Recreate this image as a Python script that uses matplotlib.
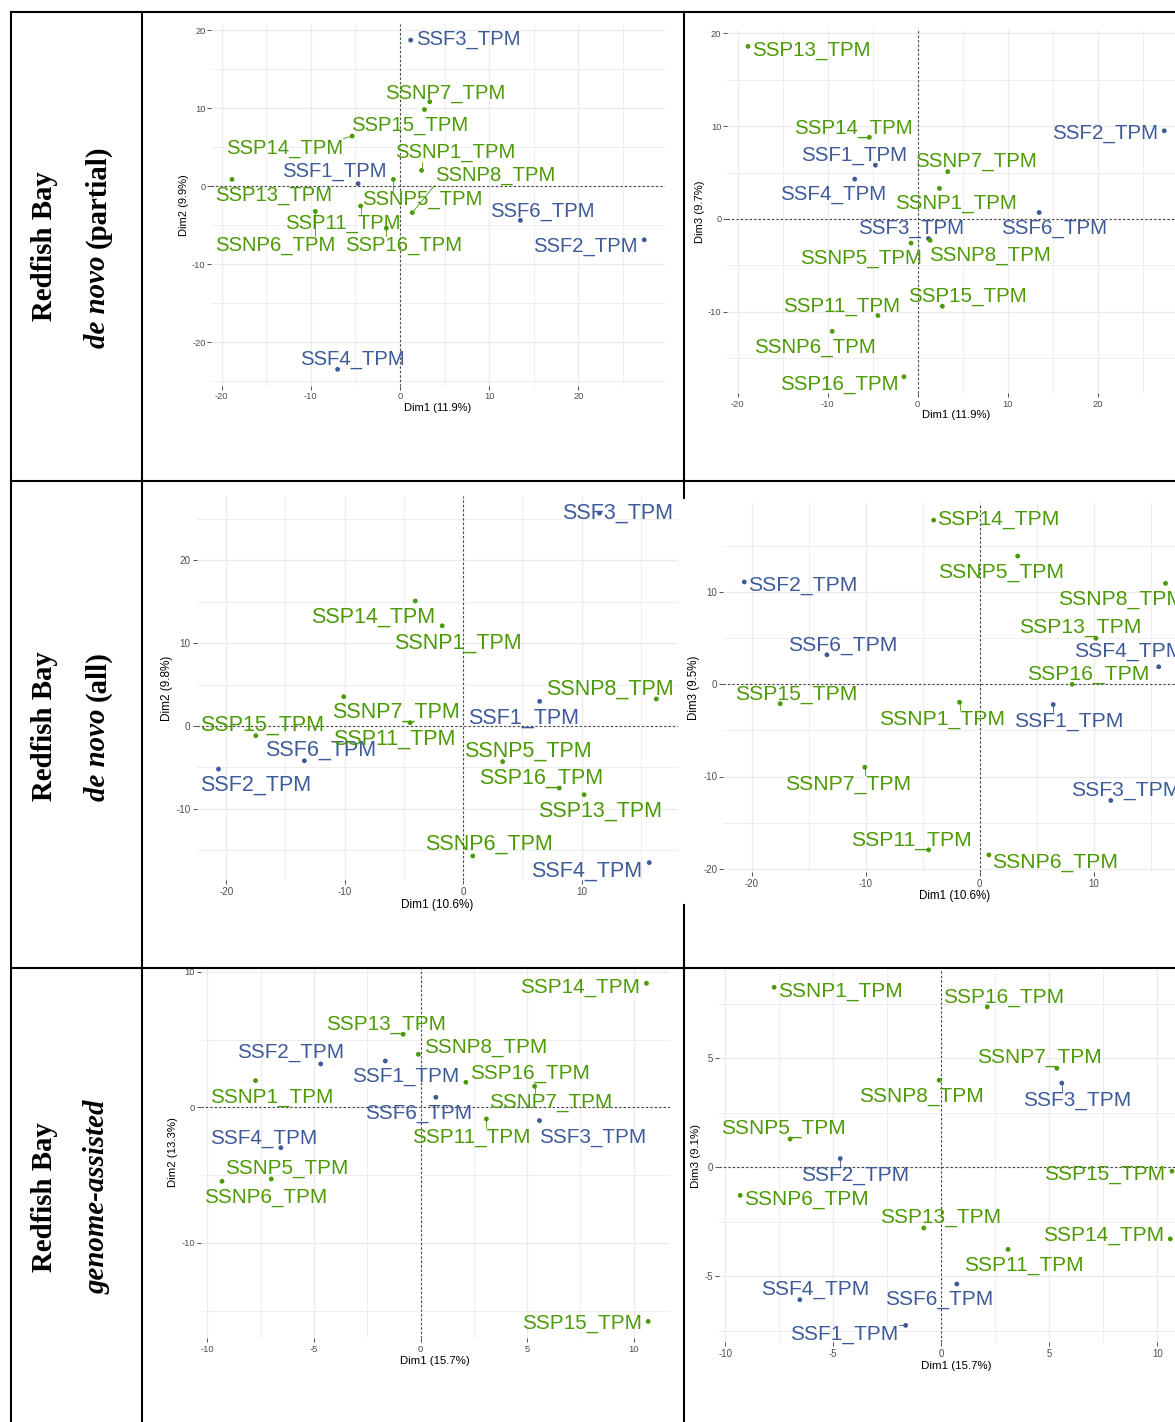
import numpy as np
import matplotlib
matplotlib.use("Agg")
import matplotlib.pyplot as plt
from matplotlib.lines import Line2D
from matplotlib.ticker import MultipleLocator

plt.rcParams['font.family'] = 'Liberation Sans'
plt.rcParams['axes.unicode_minus'] = False

W, H = 1175, 1422

# ---- PCA scores (individuals) ----
samples = ["SSF1_TPM", "SSF2_TPM", "SSF3_TPM", "SSF4_TPM", "SSF6_TPM",
           "SSNP1_TPM", "SSNP5_TPM", "SSNP6_TPM", "SSNP7_TPM", "SSNP8_TPM",
           "SSP11_TPM", "SSP13_TPM", "SSP14_TPM", "SSP15_TPM", "SSP16_TPM"]
group = ["SSF"] * 5 + ["SSP"] * 10

partial_dim1 = [-4.70, 27.40, 1.20, -7.00, 13.50, 2.42, -0.74, -9.50, 3.34, 1.38, -4.42, -18.85, -5.37, 2.74, -1.53]
partial_dim2 = [0.30, -6.90, 18.70, -23.50, -4.40, 2.00, 0.85, -3.25, 10.80, -3.42, -2.56, 0.85, 6.40, 9.80, -5.40]
partial_dim3 = [5.80, 9.50, -2.10, 4.30, 0.70, 3.30, -2.60, -12.10, 5.10, -2.30, -10.40, 18.60, 8.80, -9.40, -17.00]
partial_var = [11.9, 9.9, 9.7]

all_dim1 = [6.45, -20.65, 11.50, 15.70, -13.40, -1.77, 3.33, 0.81, -10.08, 16.30, -4.48, 10.20, -4.04, -17.50, 8.11]
all_dim2 = [2.98, -5.20, 25.70, -16.50, -4.20, 12.10, -4.30, -15.70, 3.54, 3.26, 0.40, -8.30, 15.10, -1.17, -7.50]
all_dim3 = [-2.20, 11.10, -12.60, 1.90, 3.20, -1.95, 13.90, -18.50, -9.00, 10.95, -17.96, 5.00, 17.80, -2.10, 0.00]
all_var = [10.6, 9.8, 9.5]

genome_dim1 = [-1.65, -4.68, 5.58, -6.55, 0.72, -7.74, -7.00, -9.31, 5.35, -0.10, 3.09, -0.81, 10.60, 10.68, 2.13]
genome_dim2 = [3.42, 3.20, -0.98, -2.98, 0.74, 1.97, -5.29, -5.46, 1.55, 3.91, -0.86, 5.39, 9.15, -15.80, 1.85]
genome_dim3 = [-7.26, 0.40, 3.87, -6.08, -5.36, 8.27, 1.30, -1.29, 4.55, 4.00, -3.77, -2.79, -3.29, -0.18, 7.37]
genome_var = [15.7, 13.3, 9.1]

row_titles = ["Redfish Bay", "Redfish Bay", "Redfish Bay"]
row_subtitles = [("de novo", "(partial)"), ("de novo", "(all)"), ("genome-assisted", "")]

# ---- repelled label placement (x centre, baseline) in data units ----
lab_p12 = [(-7.33, 1.20), (20.82, -8.42), (7.61, 18.16), (-5.30, -22.95), (15.94, -3.95),
           (6.20, 3.63), (2.50, -2.35), (-14.03, -8.29), (5.11, 11.24), (10.64, 0.64),
           (-6.39, -5.43), (-14.19, -1.88), (-12.90, 4.19), (1.09, 7.05), (0.39, -8.29)]
lab_p13 = [(-7.07, 6.25), (20.81, 8.62), (-0.70, -1.54), (-9.37, 2.12), (15.19, -1.54),
           (4.22, 1.08), (-6.30, -4.85), (-11.41, -14.40), (6.44, 5.64), (8.04, -4.52),
           (-8.41, -9.98), (-11.81, 17.59), (-7.19, 9.23), (5.48, -8.90), (-8.74, -18.35)]
lab_a12 = [(5.13, 0.32), (-17.50, -7.85), (13.05, 25.01), (10.44, -18.20), (-12.02, -3.62),
           (-0.41, 9.38), (5.45, -3.71), (2.17, -14.98), (-5.69, 1.05), (12.35, 3.83),
           (-5.81, -2.22), (11.52, -10.95), (-7.57, 12.48), (-16.98, -0.56), (6.60, -6.93)]
lab_a13 = [(7.84, -4.59), (-15.56, 10.16), (12.81, -12.07), (13.04, 3.00), (-12.02, 3.65),
           (-3.27, -4.34), (1.87, 11.60), (6.58, -19.95), (-11.58, -11.46), (12.37, 8.67),
           (-5.99, -17.53), (8.80, 5.60), (1.64, 17.35), (-16.08, -1.70), (9.56, 0.47)]
lab_g12 = [(-0.68, 1.85), (-6.11, 3.62), (8.07, -2.58), (-7.37, -2.66), (-0.08, -0.86),
           (-6.99, 0.37), (-6.28, -4.94), (-7.24, -7.04), (6.10, -0.07), (3.05, 3.99),
           (2.36, -2.58), (-1.61, 5.71), (7.50, 8.49), (7.58, -16.38), (5.13, 2.14)]
lab_g13 = [(-4.48, -7.90), (-3.98, -0.61), (6.28, 2.83), (-5.83, -5.87), (-0.11, -6.32),
           (-4.68, 7.84), (-7.30, 1.56), (-6.25, -1.73), (4.55, 4.78), (-0.93, 3.02),
           (3.81, -4.76), (-0.05, -2.55), (7.52, -3.38), (7.58, -0.55), (2.87, 7.56)]

palette = {"SSF": "#3E5A99", "SSP": "#4C9A06"}

fig = plt.figure(figsize=(W / 100, H / 100), dpi=100)
fig.patch.set_facecolor("white")


def expand(v):
    lo, hi = min(v), max(v)
    pad = 0.05 * (hi - lo)
    return lo - pad, hi + pad


def pca_panel(x, y, xvar, yvar, xdim, ydim, labels, x0, sx, y0, sy, fs, xstep, ystep):
    xlim, ylim = expand(x), expand(y)
    left, right = x0 + xlim[0] * sx, x0 + xlim[1] * sx
    top, bottom = y0 - ylim[1] * sy, y0 - ylim[0] * sy
    ax = fig.add_axes([left / W, 1 - bottom / H, (right - left) / W, (bottom - top) / H])
    ax.set_xlim(xlim)
    ax.set_ylim(ylim)
    s = fs / 14.6
    for sp in ax.spines.values():
        sp.set_visible(False)
    ax.xaxis.set_major_locator(MultipleLocator(xstep))
    ax.yaxis.set_major_locator(MultipleLocator(ystep))
    ax.xaxis.set_minor_locator(MultipleLocator(xstep / 2))
    ax.yaxis.set_minor_locator(MultipleLocator(ystep / 2))
    ax.grid(which="major", color="#EBEBEB", lw=0.9)
    ax.grid(which="minor", color="#EBEBEB", lw=0.6)
    ax.set_axisbelow(True)
    ax.tick_params(which="major", length=2.6 * s, width=0.6, color="#333333",
                   labelsize=6.7 * s, labelcolor="#4D4D4D")
    ax.tick_params(axis="x", pad=2.2 * s)
    ax.tick_params(axis="y", pad=1.5 * s)
    ax.tick_params(which="minor", length=0)
    ax.xaxis.set_major_formatter(plt.FuncFormatter(lambda v, p: f"{v:g}"))
    ax.yaxis.set_major_formatter(plt.FuncFormatter(lambda v, p: f"{v:g}"))
    ax.set_xlabel(f"Dim{xdim} ({xvar}%)", fontsize=8.0 * s, labelpad=1.0 * s)
    ax.set_ylabel(f"Dim{ydim} ({yvar}%)", fontsize=8.0 * s, labelpad=2.0 * s)

    ax.axhline(0, color="#444444", lw=0.8, ls=(0, (2, 2)), zorder=1)
    ax.axvline(0, color="#444444", lw=0.8, ls=(0, (2, 2)), zorder=1)

    cols = [palette[g] for g in group]
    ax.scatter(x, y, s=12, c=cols, linewidths=0, zorder=3)
    texts = []
    for name, (lx, ly), c in zip(samples, labels, cols):
        texts.append(ax.text(lx, ly, name, ha="center", va="baseline",
                             fontsize=fs, color=c, zorder=4))
    return ax, texts, cols


panels = [
    (partial_dim1, partial_dim2, partial_var[0], partial_var[1], 1, 2, lab_p12, 400.0, 8.915, 186.0, 7.8, 14.6, 10, 10),
    (partial_dim1, partial_dim3, partial_var[0], partial_var[2], 1, 3, lab_p13, 917.7, 9.0, 219.0, 9.283, 14.75, 10, 10),
    (all_dim1, all_dim2, all_var[0], all_var[1], 1, 2, lab_a12, 463.2, 11.85, 726.0, 8.28, 15.5, 10, 10),
    (all_dim1, all_dim3, all_var[0], all_var[2], 1, 3, lab_a13, 979.7, 11.4, 684.3, 9.22, 15.2, 10, 10),
    (genome_dim1, genome_dim2, genome_var[0], genome_var[1], 1, 2, lab_g12, 420.5, 21.32, 1107.3, 13.55, 14.9, 5, 10),
    (genome_dim1, genome_dim3, genome_var[0], genome_var[2], 1, 3, lab_g13, 941.3, 21.6, 1167.3, 21.77, 15.05, 5, 5),
]

built = []
for p in panels:
    ax, texts, cols = pca_panel(*p)
    built.append((ax, p[0], p[1], texts, cols))

# leader segments from each point to its label box (ggrepel style)
fig.canvas.draw()
renderer = fig.canvas.get_renderer()
for ax, xs, ys, texts, cols in built:
    inv = ax.transData.inverted()
    for x, y, t, c in zip(xs, ys, texts, cols):
        bb = t.get_window_extent(renderer)
        px, py = ax.transData.transform((x, y))
        cx = min(max(px, bb.x0), bb.x1)
        cy = min(max(py, bb.y0), bb.y1)
        if np.hypot(cx - px, cy - py) > 7:
            (a0, b0), (a1, b1) = inv.transform([(px, py), (cx, cy)])
            ax.plot([a0, a1], [b0, b1], color=c, lw=0.6, zorder=2)

# ---- row headings in the left column ----
serif = "Liberation Serif"
hsize = 20.8
row_centres = [246.5, 726.0, 1197.0]
for title, (ital, rest), yc in zip(row_titles, row_subtitles, row_centres):
    fig.text(52 / W, 1 - yc / H, title, rotation=90, rotation_mode="anchor",
             ha="center", va="baseline", family=serif, weight="bold", fontsize=hsize)
    t1 = fig.text(0, 0, ital, rotation=90, rotation_mode="anchor", ha="left",
                  va="baseline", family=serif, weight="bold", style="italic", fontsize=hsize)
    t2 = fig.text(0, 0, rest, rotation=90, rotation_mode="anchor", ha="left",
                  va="baseline", family=serif, weight="bold", fontsize=hsize)
    w1 = t1.get_window_extent(renderer).height
    w2 = t2.get_window_extent(renderer).height if rest else 0.0
    gap = 0.25 * hsize * 100 / 72 if rest else 0.0
    start = yc + (w1 + gap + w2) / 2
    t1.set_position((105 / W, 1 - start / H))
    t2.set_position((105 / W, 1 - (start - w1 - gap) / H))

# ---- table rules ----
rules = [
    ((11, 12), (1175, 12)),
    ((11, 481), (1175, 481)),
    ((11, 968), (1175, 968)),
    ((11, 12), (11, 1422)),
    ((142, 12), (142, 1422)),
    ((684, 12), (684, 498)),
    ((684, 905), (684, 1422)),
]
for (xa, ya), (xb, yb) in rules:
    fig.add_artist(Line2D([xa / W, xb / W], [1 - ya / H, 1 - yb / H],
                          transform=fig.transFigure, color="black", lw=1.5,
                          solid_capstyle="projecting", zorder=10))

fig.savefig("out.png", dpi=100)
